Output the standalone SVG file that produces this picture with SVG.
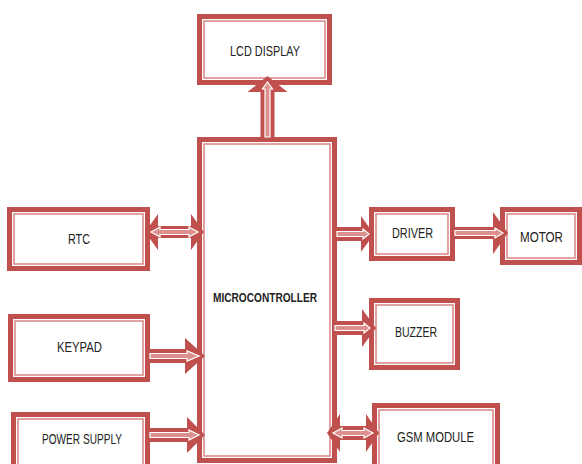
<svg xmlns="http://www.w3.org/2000/svg" width="582" height="464" viewBox="0 0 582 464">
<style>
.o{fill:#fff;stroke:#c0504d;stroke-width:5}
.i{fill:none;stroke:#d88583;stroke-width:1.5}
.t{font-family:"Liberation Sans",Arial,sans-serif;font-size:14px;fill:#222;text-anchor:middle}
.b{font-weight:bold;font-size:13px}
.ao{fill:#c0504d}
.ai{fill:#dc918f;stroke:#fff;stroke-width:1.2}
</style>
<rect width="582" height="464" fill="#fff"/>
<g id="lcd"><rect class="o" x="199.5" y="16.5" width="130" height="66"/><rect class="i" x="204" y="21" width="121" height="57"/><text class="t" x="265" y="56" textLength="70" lengthAdjust="spacingAndGlyphs">LCD DISPLAY</text></g>
<g id="micro"><rect class="o" x="199.5" y="139.5" width="135" height="321"/><rect class="i" x="204" y="144" width="126" height="312"/><text class="t b" x="265" y="302" textLength="104" lengthAdjust="spacingAndGlyphs">MICROCONTROLLER</text></g>
<g id="rtc"><rect class="o" x="9.5" y="209.5" width="138" height="59"/><rect class="i" x="14" y="214" width="129" height="50"/><text class="t" x="79" y="244" textLength="22" lengthAdjust="spacingAndGlyphs">RTC</text></g>
<g id="keypad"><rect class="o" x="10.5" y="316.5" width="137" height="63"/><rect class="i" x="15" y="321" width="128" height="54"/><text class="t" x="79.5" y="352" textLength="45" lengthAdjust="spacingAndGlyphs">KEYPAD</text></g>
<g id="power"><rect class="o" x="13.5" y="414.5" width="134" height="60"/><rect class="i" x="18" y="419" width="125" height="52"/><text class="t" x="82" y="444" textLength="80" lengthAdjust="spacingAndGlyphs">POWER SUPPLY</text></g>
<g id="driver"><rect class="o" x="371.5" y="209.5" width="81" height="49"/><rect class="i" x="376" y="214" width="72" height="40"/><text class="t" x="412.5" y="238" textLength="41" lengthAdjust="spacingAndGlyphs">DRIVER</text></g>
<g id="motor"><rect class="o" x="502.5" y="209.5" width="77" height="53"/><rect class="i" x="507" y="214" width="68" height="44"/><text class="t" x="541.5" y="242" textLength="43" lengthAdjust="spacingAndGlyphs">MOTOR</text></g>
<g id="buzzer"><rect class="o" x="371.5" y="300.5" width="86" height="67"/><rect class="i" x="376" y="305" width="77" height="58"/><text class="t" x="416" y="337" textLength="42" lengthAdjust="spacingAndGlyphs">BUZZER</text></g>
<g id="gsm"><rect class="o" x="374.5" y="405.5" width="123" height="70"/><rect class="i" x="379" y="410" width="114" height="60"/><text class="t" x="435.5" y="442" textLength="77" lengthAdjust="spacingAndGlyphs">GSM MODULE</text></g>
<g id="connectors">
<path class="ao" d="M260.5,139 L260.5,92 L247.5,92 L267.5,76 L287.5,92 L274.5,92 L274.5,139 Z"/>
<path class="ai" d="M265,137 L265,89 L262.5,89 L267.5,82 L272.5,89 L270,89 L270,137 Z"/>
<path class="ao" d="M145,232 L158,214 L158,226 L191,226 L191,214 L204,232 L191,250 L191,238 L158,238 L158,250 Z"/>
<path class="ai" d="M151,232 L160,227 L160,229.5 L189,229.5 L189,227 L198,232 L189,237 L189,234.5 L160,234.5 L160,237 Z"/>
<path class="ao" d="M337,227 L361,227 L361,216 L374,234 L361,252 L361,241 L337,241 Z"/>
<path class="ai" d="M337,231.5 L363,231.5 L363,229 L369,234 L363,239 L363,236.5 L337,236.5 Z"/>
<path class="ao" d="M455,227 L493,227 L493,212 L508,233 L493,254 L493,239 L455,239 Z"/>
<path class="ai" d="M455,230.5 L495,230.5 L495,228 L503,233 L495,238 L495,235.5 L455,235.5 Z"/>
<path class="ao" d="M150,349 L185,349 L185,338 L205,356 L185,374 L185,363 L150,363 Z"/>
<path class="ai" d="M150,353.5 L187,353.5 L187,351 L199,356 L187,361 L187,358.5 L150,358.5 Z"/>
<path class="ao" d="M150,428 L187,428 L187,417 L205,435 L187,453 L187,442 L150,442 Z"/>
<path class="ai" d="M150,432.5 L189,432.5 L189,430 L199,435 L189,440 L189,437.5 L150,437.5 Z"/>
<path class="ao" d="M333,321 L362,321 L362,309 L376,328 L362,347 L362,335 L333,335 Z"/>
<path class="ai" d="M335,325.5 L364,325.5 L364,323 L370,328 L364,333 L364,330.5 L335,330.5 Z"/>
<path class="ao" d="M327,433 L340,414 L340,426 L366,426 L366,414 L379,433 L366,452 L366,440 L340,440 L340,452 Z"/>
<path class="ai" d="M333,433 L342,428 L342,430.5 L364,430.5 L364,428 L373,433 L364,438 L364,435.5 L342,435.5 L342,438 Z"/>
</g>
</svg>
